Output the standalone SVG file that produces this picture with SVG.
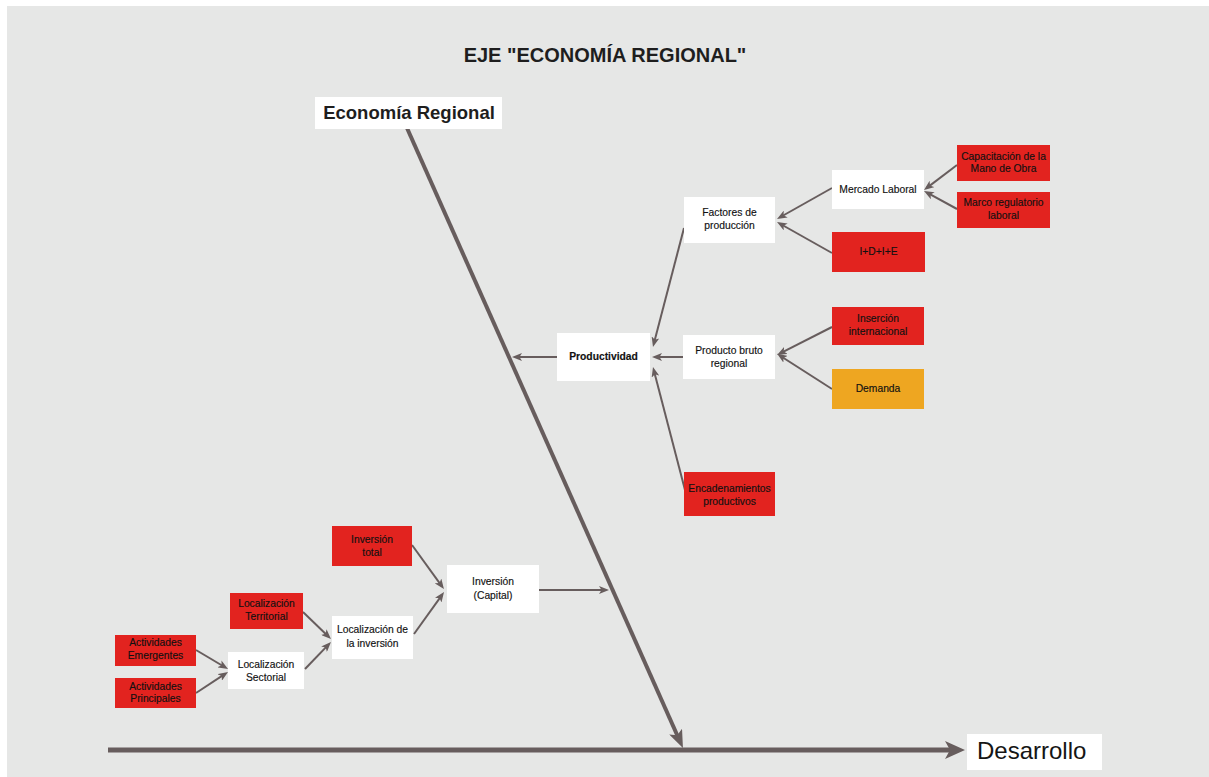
<svg xmlns="http://www.w3.org/2000/svg" width="1209" height="777" viewBox="0 0 1209 777">
<style>
.bg{fill:#e6e7e6}
.w{fill:#ffffff}
.r{fill:#e2231f}
.o{fill:#eea621}
.t{font-family:"Liberation Sans",Arial,sans-serif;font-size:10.3px;fill:#111111;text-anchor:middle;stroke:#111111;stroke-width:0.15}
.c{stroke:#675d5d;stroke-width:2;fill:none}
.title{font-family:"Liberation Sans",Arial,sans-serif;font-size:20px;font-weight:bold;fill:#1e1e1e;text-anchor:middle}
</style>
<defs>
<marker id="ah" markerUnits="userSpaceOnUse" markerWidth="10" markerHeight="8" refX="6" refY="4" orient="auto" viewBox="0 0 10 8">
<path d="M0,0 L10,4 L0,8 L2.5,4 z" fill="#675d5d"/>
</marker>
<marker id="ahd" markerUnits="userSpaceOnUse" markerWidth="18" markerHeight="14" refX="10" refY="7" orient="auto" viewBox="0 0 18 14">
<path d="M0,0 L18,7 L0,14 L4,7 z" fill="#675d5d"/>
</marker>
<marker id="ahh" markerUnits="userSpaceOnUse" markerWidth="20" markerHeight="18" refX="12" refY="9" orient="auto" viewBox="0 0 20 18">
<path d="M0,0 L20,9 L0,18 L5,9 z" fill="#675d5d"/>
</marker>
</defs>
<rect x="0" y="0" width="1209" height="777" fill="#ffffff"/>
<rect class="bg" x="7" y="6" width="1202" height="771"/>
<text class="title" x="605" y="62">EJE "ECONOMÍA REGIONAL"</text>

<g id="connectors">
<line x1="407" y1="128" x2="679.7" y2="740.7" stroke="#675d5d" stroke-width="4" marker-end="url(#ahd)"/>
<line x1="108" y1="750" x2="957" y2="750" stroke="#675d5d" stroke-width="5" marker-end="url(#ahh)"/>
<line class="c" x1="957" y1="165" x2="927.2" y2="187.6" marker-end="url(#ah)"/>
<line class="c" x1="957" y1="209" x2="927.5" y2="192.9" marker-end="url(#ah)"/>
<line class="c" x1="832" y1="188" x2="780.5" y2="217" marker-end="url(#ah)"/>
<line class="c" x1="832" y1="253" x2="780.5" y2="224" marker-end="url(#ah)"/>
<line class="c" x1="684" y1="228" x2="654" y2="343.1" marker-end="url(#ah)"/>
<line class="c" x1="684" y1="357" x2="656" y2="357" marker-end="url(#ah)"/>
<line class="c" x1="685" y1="490" x2="654" y2="370.9" marker-end="url(#ah)"/>
<line class="c" x1="557" y1="357" x2="516" y2="357" marker-end="url(#ah)"/>
<line class="c" x1="832" y1="327" x2="780.6" y2="353.2" marker-end="url(#ah)"/>
<line class="c" x1="832" y1="389" x2="780.5" y2="356" marker-end="url(#ah)"/>
<line class="c" x1="412" y1="545" x2="441.6" y2="585.8" marker-end="url(#ah)"/>
<line class="c" x1="414" y1="634" x2="441.7" y2="595.3" marker-end="url(#ah)"/>
<line class="c" x1="539" y1="590" x2="605" y2="590" marker-end="url(#ah)"/>
<line class="c" x1="303" y1="612" x2="328.1" y2="636.2" marker-end="url(#ah)"/>
<line class="c" x1="305" y1="669" x2="328.2" y2="644.9" marker-end="url(#ah)"/>
<line class="c" x1="196" y1="650" x2="224.6" y2="667" marker-end="url(#ah)"/>
<line class="c" x1="196" y1="693" x2="224.7" y2="674.2" marker-end="url(#ah)"/>
</g>

<g id="economia-regional">
<rect class="w" x="315" y="97" width="187" height="32"/>
<text x="409" y="119" font-family="Liberation Sans,Arial,sans-serif" font-size="18.5" font-weight="bold" fill="#1e1e1e" text-anchor="middle">Economía Regional</text>
</g>
<g id="desarrollo">
<rect class="w" x="967" y="734" width="135" height="36"/>
<text x="977" y="759" font-family="Liberation Sans,Arial,sans-serif" font-size="24" fill="#151515">Desarrollo</text>
</g>

<g id="factores"><rect class="w" x="684" y="197" width="91" height="46"/><text class="t" x="729.5" y="216">Factores de</text><text class="t" x="729.5" y="229">producción</text></g>
<g id="mercado"><rect class="w" x="832" y="170" width="92" height="39"/><text class="t" x="878" y="193">Mercado Laboral</text></g>
<g id="capacitacion"><rect class="r" x="957" y="145" width="93" height="36"/><text class="t" x="1003.5" y="160">Capacitación de la</text><text class="t" x="1003.5" y="172">Mano de Obra</text></g>
<g id="marco"><rect class="r" x="957" y="192" width="93" height="36"/><text class="t" x="1003.5" y="206">Marco regulatorio</text><text class="t" x="1003.5" y="219">laboral</text></g>
<g id="idie"><rect class="r" x="832" y="232" width="93" height="40"/><text class="t" x="878.5" y="255">I+D+I+E</text></g>
<g id="productividad"><rect class="w" x="557" y="333" width="93" height="48"/><text class="t" x="603.5" y="360" font-weight="bold">Productividad</text></g>
<g id="producto-bruto"><rect class="w" x="683" y="335" width="92" height="44"/><text class="t" x="729" y="354">Producto bruto</text><text class="t" x="729" y="367">regional</text></g>
<g id="insercion"><rect class="r" x="832" y="307" width="92" height="38"/><text class="t" x="878" y="322">Inserción</text><text class="t" x="878" y="335">internacional</text></g>
<g id="demanda"><rect class="o" x="832" y="369" width="92" height="40"/><text class="t" x="878" y="392">Demanda</text></g>
<g id="encadenamientos"><rect class="r" x="684" y="472" width="91" height="44"/><text class="t" x="729.5" y="492">Encadenamientos</text><text class="t" x="729.5" y="505">productivos</text></g>
<g id="inversion-total"><rect class="r" x="332" y="526" width="80" height="40"/><text class="t" x="372" y="543">Inversión</text><text class="t" x="372" y="556">total</text></g>
<g id="inversion-capital"><rect class="w" x="447" y="565" width="92" height="48"/><text class="t" x="493" y="585">Inversión</text><text class="t" x="493" y="599">(Capital)</text></g>
<g id="localizacion-inversion"><rect class="w" x="332" y="616" width="81" height="43"/><text class="t" x="372.5" y="633">Localización de</text><text class="t" x="372.5" y="647">la inversión</text></g>
<g id="localizacion-territorial"><rect class="r" x="230" y="593" width="73" height="36"/><text class="t" x="266.5" y="607">Localización</text><text class="t" x="266.5" y="620">Territorial</text></g>
<g id="localizacion-sectorial"><rect class="w" x="228" y="652" width="76" height="37"/><text class="t" x="266" y="668">Localización</text><text class="t" x="266" y="681">Sectorial</text></g>
<g id="actividades-emergentes"><rect class="r" x="115" y="635" width="81" height="31"/><text class="t" x="155.5" y="646">Actividades</text><text class="t" x="155.5" y="659">Emergentes</text></g>
<g id="actividades-principales"><rect class="r" x="115" y="678" width="81" height="30"/><text class="t" x="155.5" y="690">Actividades</text><text class="t" x="155.5" y="702">Principales</text></g>
</svg>
